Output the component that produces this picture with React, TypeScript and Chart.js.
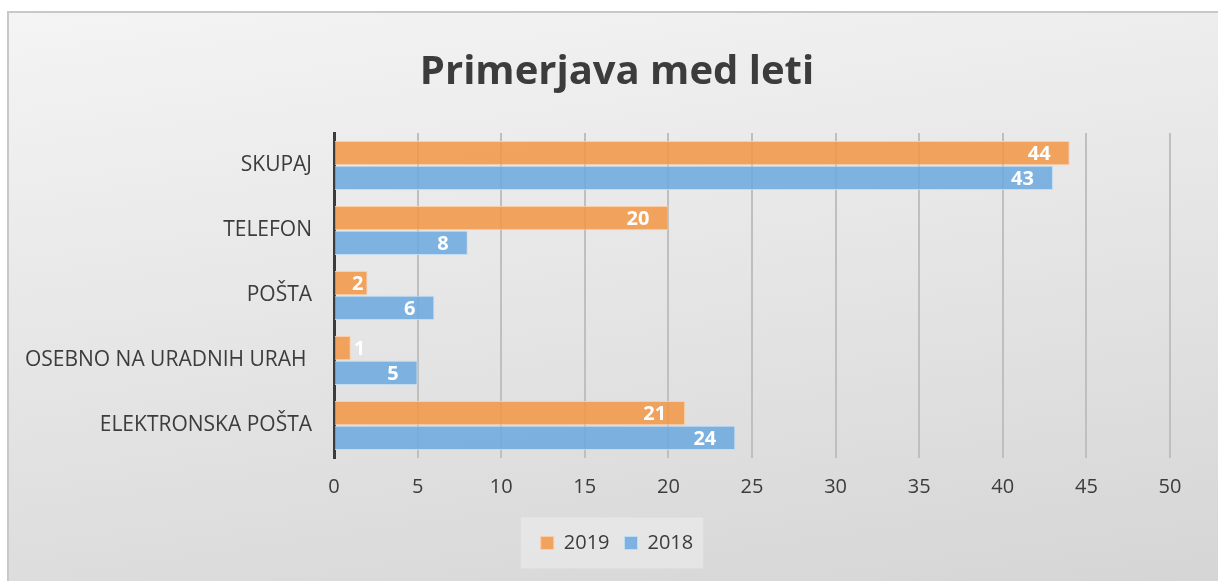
import React, { useEffect, useRef } from "react";
import { Chart, registerables } from "chart.js";

Chart.register(...registerables);

const categories = ["SKUPAJ", "TELEFON", "POŠTA", "OSEBNO NA URADNIH URAH ", "ELEKTRONSKA POŠTA"];
const seriesNames = ["2019", "2018"];
const values2019 = [44, 20, 2, 1, 21];
const values2018 = [43, 8, 6, 5, 24];
const xMin = 0;
const xMax = 50;
const xStep = 5;
const titleText = "Primerjava med leti";

const FONT = "'Open Sans', 'DejaVu Sans', sans-serif";
const TEXT = "#3c3c3c";
const PAD_LEFT = 16;
const PLOT_LEFT = 334;
const PLOT_RIGHT = 1170;
const W = 1218;
const H = 581;

const barLabelPlugin = {
  id: "barLabels",
  afterDatasetsDraw(chart: any) {
    const ctx = chart.ctx;
    ctx.save();
    ctx.font = `bold 20px ${FONT}`;
    ctx.fillStyle = "#ffffff";
    ctx.textBaseline = "middle";
    chart.data.datasets.forEach((ds: any, di: number) => {
      const meta = chart.getDatasetMeta(di);
      meta.data.forEach((bar: any, i: number) => {
        const text = String(ds.data[i]);
        const w = ctx.measureText(text).width;
        const p = bar.getProps(["x", "y", "base"], true);
        const len = p.x - p.base;
        let tx: number;
        if (len >= w + 40) {
          tx = p.x - 19;
          ctx.textAlign = "right";
        } else if (len >= w + 8) {
          tx = p.x - 4;
          ctx.textAlign = "right";
        } else {
          tx = p.x + 3;
          ctx.textAlign = "left";
        }
        ctx.fillText(text, tx, p.y + 1);
      });
    });
    ctx.restore();
  },
};

const legendBgPlugin = {
  id: "legendBg",
  beforeDraw(chart: any) {
    const lg = chart.legend;
    if (!lg || !lg.legendHitBoxes || !lg.legendHitBoxes.length) return;
    const hb = lg.legendHitBoxes;
    const first = hb[0];
    const last = hb[hb.length - 1];
    const cy = first.top + first.height / 2;
    const left = first.left - 20;
    const right = last.left + last.width + 10;
    const ctx = chart.ctx;
    ctx.save();
    ctx.fillStyle = "rgba(255,255,255,0.3)";
    ctx.fillRect(left, cy - 25.5, right - left, 51);
    ctx.restore();
  },
};

export default function App() {
  const ref = useRef<HTMLCanvasElement | null>(null);

  useEffect(() => {
    document.body.style.margin = "0";
    const canvas = ref.current;
    if (!canvas) return;
    const chart = new Chart(canvas, {
      type: "bar",
      data: {
        labels: categories,
        datasets: [
          {
            label: seriesNames[0],
            data: values2019,
            backgroundColor: "rgba(242,150,70,0.86)",
            borderColor: "rgba(250,205,165,0.95)",
            borderWidth: 1,
            categoryPercentage: 0.76,
            barPercentage: 0.98,
          },
          {
            label: seriesNames[1],
            data: values2018,
            backgroundColor: "rgba(110,170,222,0.88)",
            borderColor: "rgba(190,220,245,0.95)",
            borderWidth: 1,
            categoryPercentage: 0.76,
            barPercentage: 0.98,
          },
        ],
      },
      options: {
        indexAxis: "y",
        responsive: false,
        animation: false,
        devicePixelRatio: 1,
        layout: { padding: { left: PAD_LEFT, right: 0, top: 0, bottom: 18 } },
        font: { family: FONT },
        plugins: {
          title: {
            display: true,
            text: titleText,
            color: TEXT,
            font: { family: FONT, size: 40, weight: "bold", lineHeight: 1.2 },
            padding: { top: 49, bottom: 36 },
          },
          legend: {
            display: true,
            position: "bottom",
            labels: {
              color: TEXT,
              font: { family: FONT, size: 20 },
              boxWidth: 13,
              boxHeight: 13,
              padding: 15,
            },
          },
          tooltip: { enabled: false },
        },
        scales: {
          x: {
            type: "linear",
            min: xMin,
            max: xMax,
            position: "bottom",
            ticks: {
              stepSize: xStep,
              color: TEXT,
              font: { family: FONT, size: 20 },
              padding: 17,
            },
            grid: { color: "#bfbfbf", lineWidth: 2, drawTicks: false },
            border: { display: false },
            afterFit: (s: any) => {
              s.height = 60;
            },
          },
          y: {
            type: "category",
            position: "left",
            grid: { display: false, drawTicks: false },
            border: { display: true, color: TEXT, width: 3 },
            ticks: {
              color: TEXT,
              font: { family: FONT, size: 21 },
              padding: 22,
            },
            afterFit: (s: any) => {
              s.width = PLOT_LEFT - PAD_LEFT;
            },
          },
          yRight: {
            type: "linear",
            position: "right",
            display: true,
            grid: { display: false, drawTicks: false },
            border: { display: false },
            ticks: { display: false },
            afterFit: (s: any) => {
              s.width = W - PLOT_RIGHT;
            },
          },
        },
      } as any,
      plugins: [legendBgPlugin, barLabelPlugin],
    });
    return () => chart.destroy();
  }, []);

  return (
    <div style={{ position: "relative", width: W, height: H, overflow: "hidden" }}>
      <div
        style={{
          position: "absolute",
          left: 7,
          top: 11,
          width: 1240,
          height: 600,
          boxSizing: "border-box",
          border: "2px solid #c8c8c8",
          background: "linear-gradient(172deg, #f4f4f4 0%, #e6e6e6 45%, #d4d4d4 100%)",
        }}
      />
      <canvas
        ref={ref}
        width={W}
        height={H}
        style={{ position: "absolute", left: 0, top: 0, width: W, height: H }}
      />
    </div>
  );
}
